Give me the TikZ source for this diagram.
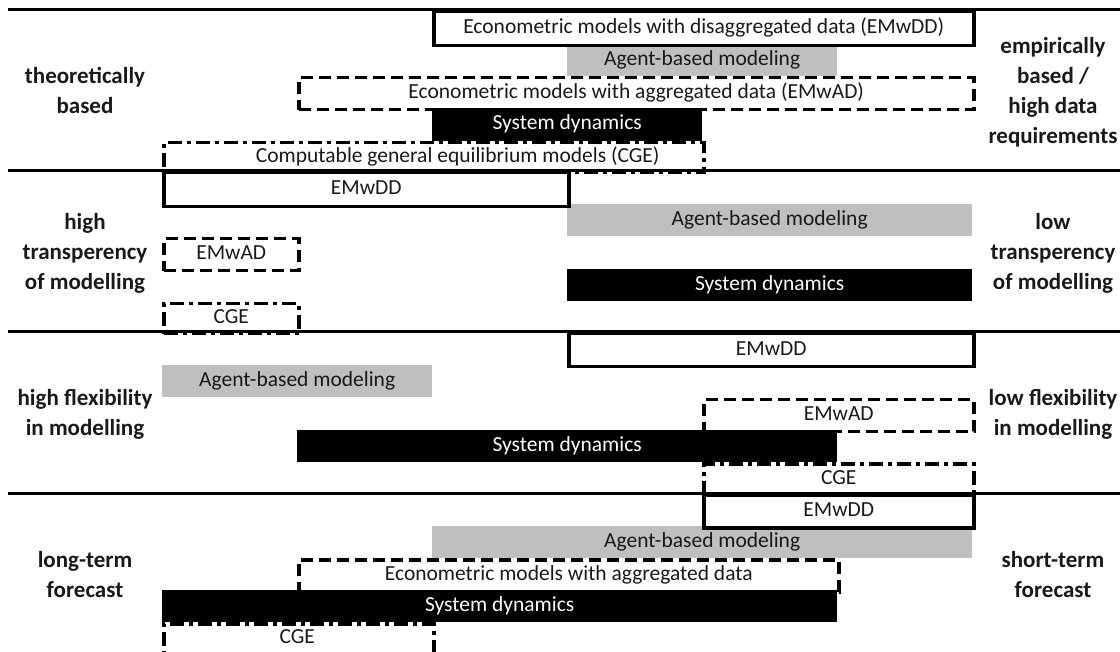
\documentclass[tikz,border=0pt]{standalone}
\usepackage{fontspec}
\setmainfont{Carlito}
\usepackage{tikz}
\usepackage{xcolor}

\begin{document}
\begin{tikzpicture}[x=1pt, y=-1pt,
  every node/.style={inner sep=0pt, anchor=north west, minimum height=32pt, text height=14pt, text depth=4pt, font=\fontsize{21.5}{24}\selectfont, text=black!90},
  ddbox/.style={draw, line width=3.5pt},
  adbox/.style={draw, line width=3.5pt, dash pattern=on 12pt off 6pt},
  cgebox/.style={draw, line width=3.5pt, dash pattern=on 14pt off 5pt on 4pt off 5pt},
  abmbar/.style={fill=black!25},
  sdbar/.style={fill=black, text=white},
  side/.style={anchor=center, align=center, minimum height=0pt, text height=, text depth=, font=\bfseries\fontsize{23}{30}\selectfont},
  sep/.style={line width=3pt}]
\useasboundingbox (0,0) rectangle (1120,652);
% Filled bars
\node[abmbar, minimum width=270pt] (abm1) at (567,44) {Agent-based modeling};
\node[sdbar, minimum width=270pt, minimum height=33pt] (sd1) at (432,108) {System dynamics};
\node[abmbar, minimum width=405pt] (abm2) at (567,204) {Agent-based modeling};
\node[sdbar, minimum width=405pt] (sd2) at (567,269) {System dynamics};
\node[abmbar, minimum width=270pt] (abm3) at (162,365) {Agent-based modeling};
\node[sdbar, minimum width=540pt] (sd3) at (297,430) {System dynamics};
\node[abmbar, minimum width=540pt] (abm4) at (432,526) {Agent-based modeling};
\node[sdbar, minimum width=675pt] (sd4) at (162,590) {System dynamics};
% Outlined boxes
\node[ddbox, minimum width=540pt, minimum height=34pt] (dd1) at (432,10) {Econometric models with disaggregated data (EMwDD)};
\node[adbox, minimum width=675pt] (ad1) at (297,76) {Econometric models with aggregated data (EMwAD)};
\node[cgebox, minimum width=540pt, minimum height=30pt] (cge1) at (162,141) {\hspace*{48pt}Computable general equilibrium models (CGE)};
\node[ddbox, minimum width=405pt, minimum height=34pt] (dd2) at (162,171) {EMwDD};
\node[adbox, minimum width=135pt] (ad2) at (162,237) {EMwAD};
\node[cgebox, minimum width=135pt, minimum height=30pt] (cge2) at (162,302) {CGE};
\node[ddbox, minimum width=405pt, minimum height=33pt] (dd3) at (567,332) {EMwDD};
\node[adbox, minimum width=270pt] (ad3) at (702,398) {EMwAD};
\node[cgebox, minimum width=270pt, minimum height=31pt] (cge3) at (702,462) {CGE};
\node[ddbox, minimum width=270pt, minimum height=33pt] (dd4) at (702,493) {EMwDD};
\node[adbox, minimum width=540pt] (ad4) at (297,558) {Econometric models with aggregated data};
\node[cgebox, minimum width=270pt, minimum height=40pt] (cge4) at (162,622) {};
\node (cgetxt4) at (162,622) [minimum width=270pt] {CGE};
% Separators
\draw[sep] (8,10) -- (1120,10);
\draw[sep] (8,171) -- (1120,171);
\draw[sep] (8,332) -- (1120,332);
\draw[sep] (8,493) -- (1120,493);
% Side labels
\node[side] (lt1) at (85,91) {theoretically\\based};
\node[side] (rt1) at (1053,92) {empirically\\based /\\high data\\requirements};
\node[side] (lt2) at (85,253) {high\\transperency\\of modelling};
\node[side] (rt2) at (1053,253) {low\\transperency\\of modelling};
\node[side] (lt3) at (85,414) {high flexibility\\in modelling};
\node[side] (rt3) at (1053,414) {low flexibility\\in modelling};
\node[side] (lt4) at (85,575) {long-term\\forecast};
\node[side] (rt4) at (1053,575) {short-term\\forecast};
\end{tikzpicture}
\end{document}
